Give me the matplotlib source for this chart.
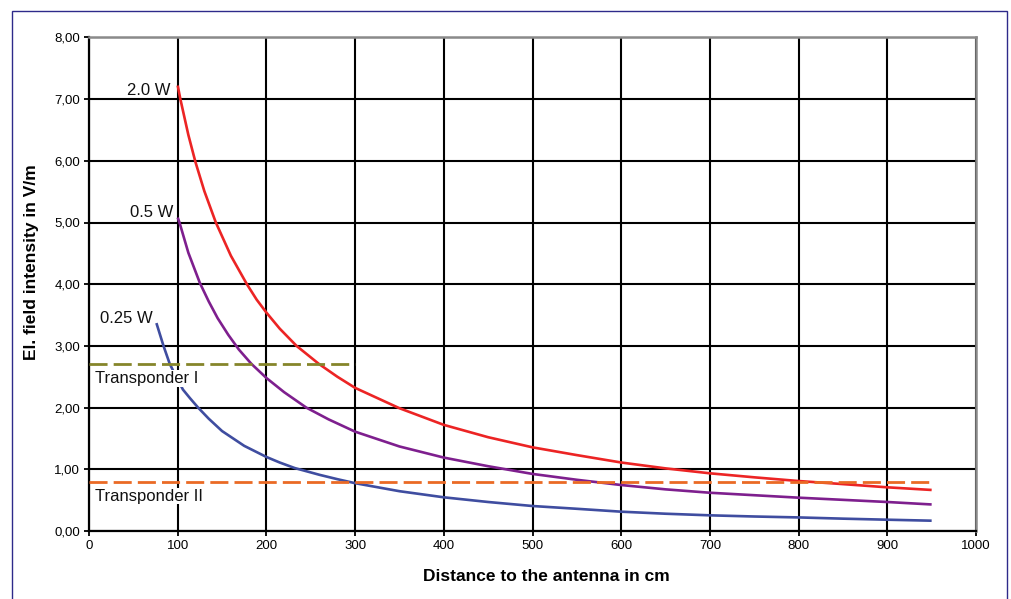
import matplotlib
matplotlib.use("Agg")
import matplotlib.pyplot as plt
from matplotlib.patches import Rectangle
from matplotlib.ticker import FuncFormatter

plt.rcParams['font.family'] = ['Liberation Sans', 'DejaVu Sans']

# ---- data ----
dist_2w = [100, 103, 112, 120, 130, 143, 160, 178, 189, 200, 215, 234, 259, 280,
           300, 350, 400, 450, 500, 550, 600, 650, 700, 750, 800, 850, 900, 950]
e_2w = [7.22, 7.00, 6.42, 5.98, 5.51, 5.00, 4.46, 4.00, 3.75, 3.54, 3.28, 3.00,
        2.71, 2.50, 2.32, 1.99, 1.72, 1.52, 1.356, 1.23, 1.11, 1.015, 0.935,
        0.87, 0.81, 0.76, 0.708, 0.665]

dist_05w = [100, 102, 112, 125, 135, 145, 157, 169, 183, 200, 220, 245, 270,
            300, 350, 400, 450, 500, 550, 600, 650, 700, 750, 800, 850, 900, 950]
e_05w = [5.08, 5.00, 4.51, 4.02, 3.72, 3.45, 3.18, 2.94, 2.71, 2.48, 2.25,
         2.00, 1.81, 1.61, 1.37, 1.19, 1.05, 0.925, 0.83, 0.745, 0.675, 0.62,
         0.58, 0.54, 0.505, 0.47, 0.43]

dist_025w = [76, 84, 91, 100, 106, 114, 123, 135, 150, 175, 200, 215, 232, 260,
             280, 300, 350, 400, 450, 500, 550, 600, 650, 700, 750, 800, 850,
             900, 950]
e_025w = [3.37, 3.00, 2.71, 2.45, 2.29, 2.15, 2.00, 1.82, 1.62, 1.38, 1.20, 1.11,
          1.02, 0.91, 0.84, 0.775, 0.645, 0.546, 0.47, 0.405, 0.36, 0.313, 0.28,
          0.254, 0.235, 0.22, 0.20, 0.183, 0.167]

transp1_x = [0, 300]
transp1_y = 2.70
transp2_x = [0, 950]
transp2_y = 0.79

xticks = list(range(0, 1001, 100))
yticks = list(range(0, 9))

# ---- figure ----
W, H = 1011, 599
fig = plt.figure(figsize=(W / 100, H / 100), dpi=100)
fig.patch.set_facecolor('white')

def fx(px):
    return px / W

def fy(py):
    return 1 - py / H

ax = fig.add_axes([fx(89), fy(531), fx(976) - fx(89), fy(37.4) - fy(531)])
ax.set_xlim(0, 1000)
ax.set_ylim(0, 8)
ax.set_xticks(xticks)
ax.set_yticks(yticks)
ax.yaxis.set_major_formatter(FuncFormatter(lambda v, p: f"{v:.2f}".replace('.', ',')))
ax.grid(True, color='black', linewidth=1.5, zorder=1)
ax.set_axisbelow(True)
for s in ['left', 'bottom']:
    ax.spines[s].set_color('black')
    ax.spines[s].set_linewidth(1.6)
for s in ['top', 'right']:
    ax.spines[s].set_color('#8a8a8a')
    ax.spines[s].set_linewidth(1.8)
ax.tick_params(axis='both', direction='out', length=3.5, width=1.3,
               labelsize=9.5, colors='black', pad=3)

lw = 1.9
ax.plot(dist_2w, e_2w, color='#ec2424', lw=lw, zorder=3, solid_capstyle='butt',
        solid_joinstyle='round')
ax.plot(dist_05w, e_05w, color='#7e1f8e', lw=lw, zorder=3, solid_capstyle='butt',
        solid_joinstyle='round')
ax.plot(dist_025w, e_025w, color='#3f4da0', lw=lw, zorder=3, solid_capstyle='butt',
        solid_joinstyle='round')

ax.plot(transp1_x, [transp1_y] * 2, color='#85852a', lw=2.0, dashes=(6.5, 2.2), zorder=3)
ax.plot(transp2_x, [transp2_y] * 2, color='#ea6a25', lw=2.0, dashes=(6.5, 2.2), zorder=3)

tkw = dict(fontsize=12, color='#111111', zorder=5)
box = dict(facecolor='white', edgecolor='none', pad=0.6)
ax.text(92, 7.14, '2.0 W', ha='right', va='center', **tkw)
ax.text(95, 5.16, '0.5 W', ha='right', va='center', bbox=box, **tkw)
ax.text(72, 3.45, '0.25 W', ha='right', va='center', **tkw)
ax.text(7, 2.47, 'Transponder I', ha='left', va='center', bbox=box, **tkw)
ax.text(7, 0.567, 'Transponder II', ha='left', va='center', bbox=box, **tkw)

fig.text(fx(546), fy(576.7), 'Distance to the antenna in cm', ha='center', va='center',
         fontsize=12.5, fontweight='bold')
fig.text(fx(31.7), fy(262), 'El. field intensity in V/m', ha='center', va='center',
         rotation=90, fontsize=12.5, fontweight='bold')

# outer frame
fig.add_artist(Rectangle((fx(11.7), fy(640)), fx(1007) - fx(11.7), fy(10.7) - fy(640),
                         transform=fig.transFigure, fill=False, edgecolor='#2e2a8a',
                         linewidth=1.0, clip_on=False))

fig.savefig('out.png', dpi=100, facecolor='white')
